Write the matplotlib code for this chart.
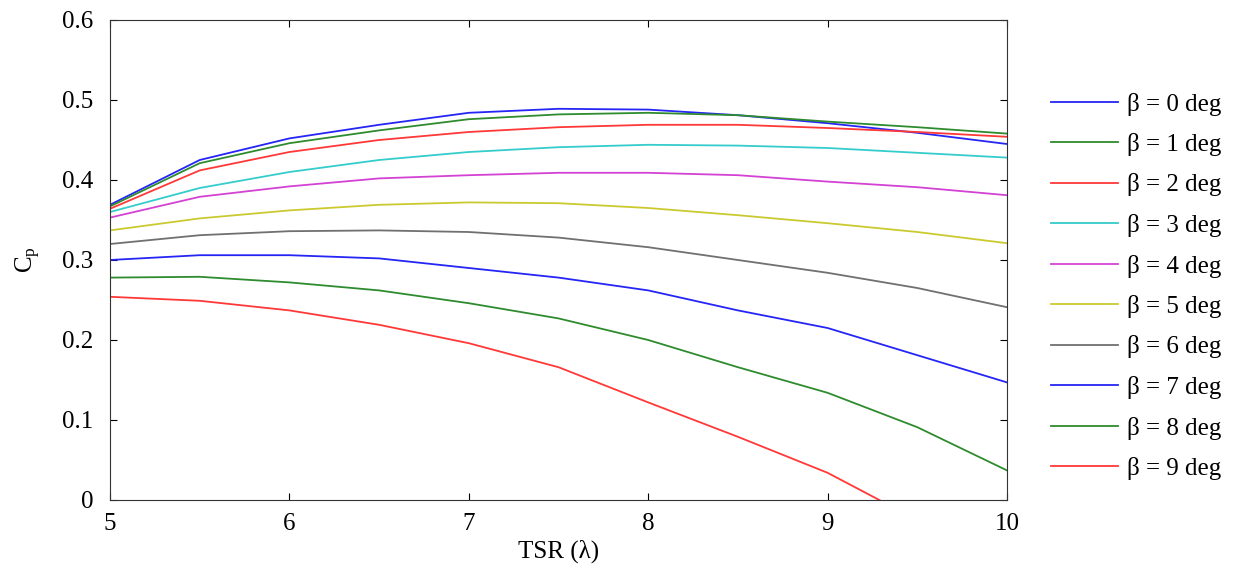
import numpy as np
import matplotlib
matplotlib.use('Agg')
import matplotlib.pyplot as plt

plt.rcParams['font.family'] = ['Liberation Serif', 'DejaVu Serif']
plt.rcParams['mathtext.fontset'] = 'custom'
plt.rcParams['mathtext.rm'] = 'Liberation Serif'
plt.rcParams['mathtext.it'] = 'Liberation Serif'

# tip speed ratio
tsr = [5.0, 5.5, 6.0, 6.5, 7.0, 7.5, 8.0, 8.5, 9.0, 9.5, 10.0]

# power coefficient for each pitch angle
cp_b0 = [0.369, 0.425, 0.452, 0.469, 0.484, 0.489, 0.488, 0.481, 0.471, 0.459, 0.445]
cp_b1 = [0.367, 0.421, 0.446, 0.462, 0.476, 0.482, 0.484, 0.481, 0.473, 0.466, 0.458]
cp_b2 = [0.364, 0.412, 0.435, 0.450, 0.460, 0.466, 0.469, 0.469, 0.465, 0.460, 0.454]
cp_b3 = [0.360, 0.390, 0.410, 0.425, 0.435, 0.441, 0.444, 0.443, 0.440, 0.434, 0.428]
cp_b4 = [0.353, 0.379, 0.392, 0.402, 0.406, 0.409, 0.409, 0.406, 0.398, 0.391, 0.381]
cp_b5 = [0.337, 0.352, 0.362, 0.369, 0.372, 0.371, 0.365, 0.356, 0.346, 0.335, 0.321]
cp_b6 = [0.320, 0.331, 0.336, 0.337, 0.335, 0.328, 0.316, 0.300, 0.284, 0.265, 0.241]
cp_b7 = [0.300, 0.306, 0.306, 0.302, 0.290, 0.278, 0.262, 0.237, 0.215, 0.181, 0.147]
cp_b8 = [0.278, 0.279, 0.272, 0.262, 0.246, 0.227, 0.200, 0.166, 0.134, 0.091, 0.037]
cp_b9 = [0.254, 0.249, 0.237, 0.219, 0.196, 0.166, 0.122, 0.079, 0.034, -0.025, -0.090]

curves = [cp_b0, cp_b1, cp_b2, cp_b3, cp_b4, cp_b5, cp_b6, cp_b7, cp_b8, cp_b9]
labels = ['\u03b2 = %d deg' % i for i in range(10)]
colors = ['#2525f5', '#2e8b2e', '#ff3838', '#35cccc', '#d442d4',
          '#caca30', '#707070', '#2525f5', '#2e8b2e', '#ff3838']

fig = plt.figure(figsize=(12.48, 5.71), dpi=100)
ax = fig.add_axes([110/1248, 71/571, 897/1248, 480/571])

for cp, lab, col in zip(curves, labels, colors):
    ax.plot(tsr, cp, color=col, lw=1.3, label=lab)

ax.set_xlim(5, 10)
ax.set_ylim(0, 0.6)
ax.set_xticks([5, 6, 7, 8, 9, 10])
ax.set_yticks([0, 0.1, 0.2, 0.3, 0.4, 0.5, 0.6])
ax.set_yticklabels(['0', '0.1', '0.2', '0.3', '0.4', '0.5', '0.6'])
ax.tick_params(direction='in', top=True, right=True, labelsize=18, length=5)
ax.tick_params(axis='y', pad=12)
ax.tick_params(axis='x', pad=9)
ax.set_xlabel('TSR (\u03bb)', fontsize=18, labelpad=4)
ax.set_ylabel(r'C$_\mathrm{p}$', fontsize=18, labelpad=14)
for s in ax.spines.values():
    s.set_color('#333333')

ax.legend(loc='upper left', bbox_to_anchor=(1028/1248, 1 - 70/571),
          bbox_transform=fig.transFigure, frameon=False, fontsize=18,
          handlelength=2.7, labelspacing=0.7, handletextpad=0.35)

fig.savefig('out.png', dpi=100)
